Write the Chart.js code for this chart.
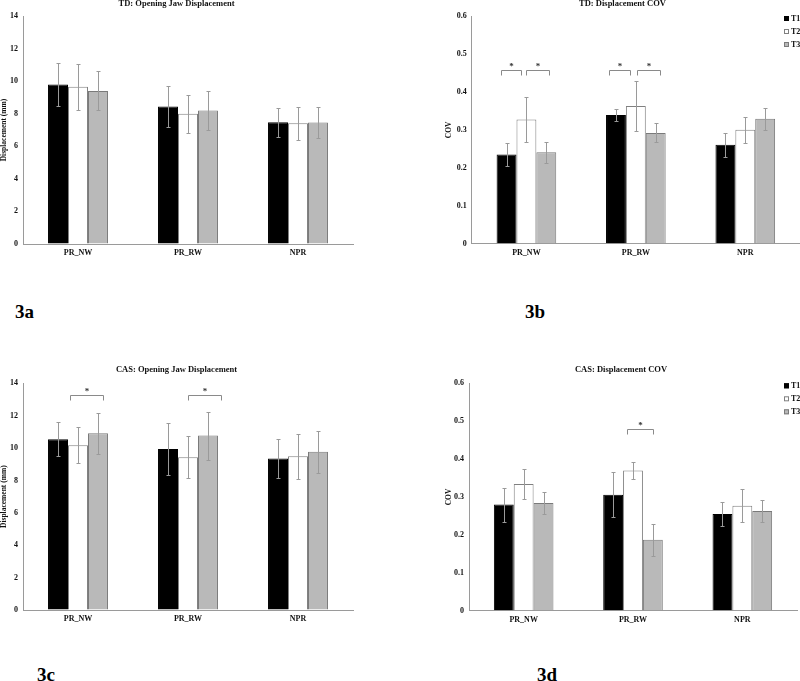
<!DOCTYPE html>
<html>
<head>
<meta charset="utf-8">
<script src="https://cdn.jsdelivr.net/npm/chart.js@4/dist/chart.umd.min.js"></script>
<style>
  html, body { margin:0; padding:0; background:#fff; }
  body { width:800px; height:681px; position:relative; overflow:hidden; }
  .panel { position:absolute; }
  .lab { position:absolute; font: bold 19px "Liberation Serif", "Times New Roman", serif; line-height:19px; color:#000; }
</style>
</head>
<body>
<div class="panel" style="left:0px;top:0px;"><canvas id="a" width="400" height="270"></canvas></div>
<div class="panel" style="left:400px;top:0px;"><canvas id="b" width="400" height="270"></canvas></div>
<div class="panel" style="left:0px;top:360px;"><canvas id="c" width="400" height="270"></canvas></div>
<div class="panel" style="left:400px;top:360px;"><canvas id="d" width="400" height="270"></canvas></div>
<div class="lab" style="left:15px;top:302px;">3a</div>
<div class="lab" style="left:525px;top:302px;">3b</div>
<div class="lab" style="left:37px;top:665px;">3c</div>
<div class="lab" style="left:537px;top:665px;">3d</div>
<script>
// ---------- data ----------
const categories = ['PR_NW', 'PR_RW', 'NPR'];
const seriesNames = ['T1', 'T2', 'T3'];

// TD: Opening Jaw Displacement (mm)
const tdDispT1 = [9.80, 8.45, 7.48];
const tdDispT2 = [9.65, 8.00, 7.42];
const tdDispT3 = [9.40, 8.20, 7.46];
const tdDispErrT1 = [1.33, 1.28, 0.90];
const tdDispErrT2 = [1.43, 1.17, 1.02];
const tdDispErrT3 = [1.20, 1.20, 0.96];

// TD: Displacement COV
const tdCovT1 = [0.235, 0.339, 0.261];
const tdCovT2 = [0.327, 0.363, 0.300];
const tdCovT3 = [0.241, 0.292, 0.329];
const tdCovErrT1 = [0.031, 0.016, 0.032];
const tdCovErrT2 = [0.060, 0.066, 0.034];
const tdCovErrT3 = [0.028, 0.025, 0.029];

// CAS: Opening Jaw Displacement (mm)
const casDispT1 = [10.54, 9.94, 9.35];
const casDispT2 = [10.17, 9.43, 9.49];
const casDispT3 = [10.91, 10.77, 9.78];
const casDispErrT1 = [1.06, 1.60, 1.20];
const casDispErrT2 = [1.11, 1.29, 1.38];
const casDispErrT3 = [1.28, 1.48, 1.29];

// CAS: Displacement COV
const casCovT1 = [0.280, 0.306, 0.255];
const casCovT2 = [0.334, 0.370, 0.277];
const casCovT3 = [0.284, 0.187, 0.263];
const casCovErrT1 = [0.045, 0.060, 0.032];
const casCovErrT2 = [0.039, 0.022, 0.044];
const casCovErrT3 = [0.030, 0.043, 0.028];

// significance brackets: category index, span (fraction of category), level (data units)
const tdCovSig = [
  { cat: 0, from: -0.233, to: -0.048, level: 0.457 },
  { cat: 0, from: -0.005, to: 0.210, level: 0.457 },
  { cat: 1, from: -0.244, to: -0.052, level: 0.457 },
  { cat: 1, from: 0.009, to: 0.225, level: 0.457 }
];
const casDispSig = [
  { cat: 0, from: -0.073, to: 0.227, level: 13.3 },
  { cat: 1, from: 0.000, to: 0.297, level: 13.3 }
];
const casCovSig = [
  { cat: 1, from: -0.058, to: 0.186, level: 0.479 }
];

// ---------- styling ----------
const FONT = '"Liberation Serif", "Times New Roman", serif';
const barFill = ['#000000', '#ffffff', '#b9b9b9'];
const barBorder = ['#000000', '#808080', '#7a7a7a'];
const AXIS = '#9a9a9a';

const errorBarPlugin = {
  id: 'errbars',
  afterDatasetsDraw(chart) {
    const ctx = chart.ctx, ys = chart.scales.y;
    ctx.save();
    ctx.strokeStyle = '#9a9a9a';
    ctx.lineWidth = 1;
    chart.data.datasets.forEach((ds, i) => {
      const meta = chart.getDatasetMeta(i);
      meta.data.forEach((bar, j) => {
        const v = ds.data[j], e = ds.errors[j];
        const x = Math.round(bar.x) + 0.5;
        const yt = Math.round(ys.getPixelForValue(v + e)) + 0.5;
        const yb = Math.round(ys.getPixelForValue(v - e)) + 0.5;
        ctx.beginPath();
        ctx.moveTo(x, yt); ctx.lineTo(x, yb);
        ctx.moveTo(x - 2, yt); ctx.lineTo(x + 2, yt);
        ctx.moveTo(x - 2, yb); ctx.lineTo(x + 2, yb);
        ctx.stroke();
      });
    });
    ctx.restore();
  }
};

const sigByChart = {};
const sigPlugin = {
  id: 'sig',
  afterDatasetsDraw(chart) {
    const items = sigByChart[chart.canvas.id] || [];
    const ctx = chart.ctx, xs = chart.scales.x, ys = chart.scales.y;
    const catW = xs.width / categories.length;
    ctx.save();
    ctx.strokeStyle = '#8a8a8a';
    ctx.lineWidth = 1;
    ctx.fillStyle = '#333';
    ctx.font = 'bold 9px ' + FONT;
    ctx.textAlign = 'center';
    ctx.textBaseline = 'middle';
    items.forEach(it => {
      const c = xs.getPixelForValue(it.cat);
      const x0 = Math.round(c + it.from * catW) + 0.5;
      const x1 = Math.round(c + it.to * catW) + 0.5;
      const y = Math.round(ys.getPixelForValue(it.level)) + 0.5;
      ctx.beginPath();
      ctx.moveTo(x0, y + 5); ctx.lineTo(x0, y); ctx.lineTo(x1, y); ctx.lineTo(x1, y + 5);
      ctx.stroke();
      ctx.fillText('*', (x0 + x1) / 2, y - 4);
    });
    ctx.restore();
  }
};

const legendOn = {};
const legendPlugin = {
  id: 'sideLegend',
  afterDraw(chart) {
    if (!legendOn[chart.canvas.id]) return;
    const ctx = chart.ctx;
    const area = chart.chartArea;
    const x = chart.width - 16;
    ctx.save();
    ctx.font = 'bold 8px ' + FONT;
    ctx.textAlign = 'left';
    ctx.textBaseline = 'middle';
    chart.data.datasets.forEach((ds, i) => {
      const y = area.top + 3 + 13 * i;
      ctx.fillStyle = ds.backgroundColor;
      ctx.fillRect(x, y - 3, 5, 5);
      ctx.strokeStyle = ds.borderColor;
      ctx.lineWidth = 1;
      ctx.strokeRect(x + 0.5, y - 2.5, 4, 4);
      ctx.fillStyle = '#111';
      ctx.fillText(ds.label, x + 7, y);
    });
    ctx.restore();
  }
};

function makeChart(id, opt) {
  sigByChart[id] = opt.sig || [];
  legendOn[id] = !!opt.legend;
  const datasets = opt.values.map((vals, i) => ({
    label: seriesNames[i],
    data: vals,
    errors: opt.errors[i],
    backgroundColor: barFill[i],
    borderColor: barBorder[i],
    borderWidth: 1,
    barPercentage: 1.0,
    categoryPercentage: 0.545
  }));
  new Chart(document.getElementById(id), {
    type: 'bar',
    data: { labels: categories, datasets },
    plugins: [errorBarPlugin, sigPlugin, legendPlugin],
    options: {
      responsive: false,
      animation: false,
      devicePixelRatio: 1,
      layout: { padding: opt.padding },
      plugins: {
        legend: { display: false },
        tooltip: { enabled: false },
        title: {
          display: true,
          text: opt.title,
          color: '#111',
          font: { family: FONT, size: 8.5, weight: 'bold', lineHeight: 1 },
          padding: { top: 0, bottom: opt.titleGap }
        }
      },
      scales: {
        x: {
          grid: { drawOnChartArea: false, drawTicks: false },
          border: { display: true, color: AXIS, width: 1 },
          ticks: { color: '#111', padding: 4, font: { family: FONT, size: 8, weight: 'bold' } },
          afterFit(s) { s.height = opt.xH; }
        },
        y: {
          min: 0, max: opt.yMax,
          ticks: { stepSize: opt.yStep, color: '#111', padding: 5, font: { family: FONT, size: 8, weight: 'bold' } },
          grid: { drawOnChartArea: false, drawTicks: false },
          border: { display: true, color: AXIS, width: 1 },
          title: {
            display: true, text: opt.yTitle, color: '#111', padding: 0,
            font: { family: FONT, size: 7.5, weight: 'bold', lineHeight: 1.2 }
          },
          afterFit(s) { s.width = opt.yW; }
        }
      }
    }
  });
}

makeChart('a', {
  title: 'TD: Opening Jaw Displacement', yTitle: 'Displacement (mm)',
  yMax: 14, yStep: 2,
  values: [tdDispT1, tdDispT2, tdDispT3],
  errors: [tdDispErrT1, tdDispErrT2, tdDispErrT3],
  padding: { left: 0, right: 47, top: 0, bottom: 0 },
  titleGap: 7.5, yW: 23, xH: 26
});
makeChart('b', {
  title: 'TD: Displacement COV', yTitle: 'COV',
  yMax: 0.6, yStep: 0.1,
  values: [tdCovT1, tdCovT2, tdCovT3],
  errors: [tdCovErrT1, tdCovErrT2, tdCovErrT3],
  sig: tdCovSig, legend: true,
  padding: { left: 45, right: 0, top: 0, bottom: 0 },
  titleGap: 7.5, yW: 26.7, xH: 26.3
});
makeChart('c', {
  title: 'CAS: Opening Jaw Displacement', yTitle: 'Displacement (mm)',
  yMax: 14, yStep: 2,
  values: [casDispT1, casDispT2, casDispT3],
  errors: [casDispErrT1, casDispErrT2, casDispErrT3],
  sig: casDispSig,
  padding: { left: 0, right: 47, top: 6, bottom: 0 },
  titleGap: 8.8, yW: 23, xH: 20
});
makeChart('d', {
  title: 'CAS: Displacement COV', yTitle: 'COV',
  yMax: 0.6, yStep: 0.1,
  values: [casCovT1, casCovT2, casCovT3],
  errors: [casCovErrT1, casCovErrT2, casCovErrT3],
  sig: casCovSig, legend: true,
  padding: { left: 45, right: 3, top: 6, bottom: 0 },
  titleGap: 8.8, yW: 24, xH: 19.3
});
</script>
</body>
</html>
